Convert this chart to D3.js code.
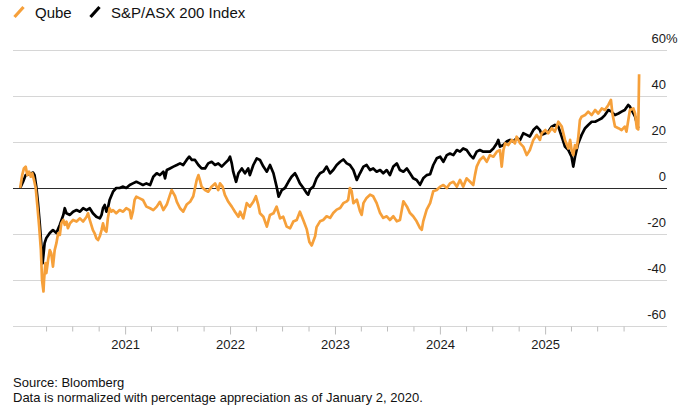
<!DOCTYPE html>
<html>
<head>
<meta charset="utf-8">
<script src="https://cdn.jsdelivr.net/npm/d3@7"></script>
<style>
  body { margin: 0; background: #fff; }
  svg { display: block; font-family: "Liberation Sans", Arial, sans-serif; }
  .grid line { stroke: #d6d6d6; stroke-width: 1; }
  .ylab { font-size: 13px; fill: #1a1a1a; }
  .x.axis text { font-size: 13px; fill: #1a1a1a; }
  .x.axis line { stroke: #bdbdbd; }
  .x.axis path { display: none; }
  .legend text { font-size: 15px; fill: #111; }
  .note { font-size: 13px; fill: #111; }
  .line { fill: none; stroke-width: 2.7; stroke-linejoin: round; }
</style>
</head>
<body>
<div id="chart"></div>
<script>
var seriesNames = ["Qube", "S&P/ASX 200 Index"];
var seriesColors = ["#f6a03a", "#000000"];
var yTicks = [-60, -40, -20, 0, 20, 40, 60];
var sourceText = "Source: Bloomberg";
var noteText = "Data is normalized with percentage appreciation as of January 2, 2020.";

// percentage change since 2 Jan 2020
var qube = [
  ["2020-01-02",0],["2020-01-09",5.6],["2020-01-15",8.5],["2020-01-21",9.3],["2020-01-27",5.6],
  ["2020-02-02",7.1],["2020-02-08",4.9],["2020-02-13",6.4],["2020-02-19",3.5],["2020-02-25",0],
  ["2020-03-02",-8.1],["2020-03-08",-16.8],["2020-03-14",-27],["2020-03-18",-40],["2020-03-23",-45],
  ["2020-03-25",-40],["2020-03-30",-32.7],["2020-04-02",-37],["2020-04-08",-31.3],["2020-04-14",-27],
  ["2020-04-19",-28.4],["2020-04-25",-34.2],["2020-05-01",-27],["2020-05-07",-24],["2020-05-13",-19.7],
  ["2020-05-19",-20.4],["2020-05-24",-15.4],["2020-05-31",-13.9],["2020-06-05",-16],["2020-06-11",-14.6],
  ["2020-06-16",-17.5],["2020-06-23",-15.4],["2020-07-04",-13.9],["2020-07-16",-14.6],["2020-07-28",-13.2],
  ["2020-08-08",-14.6],["2020-08-20",-12.5],["2020-08-25",-11],["2020-08-31",-13.9],["2020-09-11",-18.3],
  ["2020-09-17",-19.7],["2020-09-23",-21.9],["2020-09-29",-22.6],["2020-10-05",-21],["2020-10-11",-18.3],
  ["2020-10-16",-15.4],["2020-10-22",-18.3],["2020-10-28",-19],["2020-11-02",-13.2],["2020-11-08",-8.8],
  ["2020-11-14",-10.3],["2020-11-20",-9.6],["2020-12-01",-11],["2020-12-13",-9.6],["2020-12-25",-10.3],
  ["2021-01-05",-8.8],["2021-01-17",-9.6],["2021-01-22",-13.2],["2021-01-28",-10.3],["2021-02-03",-5.2],
  ["2021-02-09",-3.8],["2021-02-21",-4.5],["2021-03-04",-5.2],["2021-03-16",-8.1],["2021-03-29",-8.8],
  ["2021-04-09",-9.6],["2021-04-21",-8.1],["2021-05-02",-6],["2021-05-14",-9.6],["2021-05-26",-7.2],
  ["2021-06-06",-3],["2021-06-12",-0.9],["2021-06-24",-3.6],["2021-06-30",-6],["2021-07-11",-8.8],
  ["2021-07-22",-10.3],["2021-08-03",-7.2],["2021-08-15",-6],["2021-08-26",-3.6],["2021-09-07",3.5],
  ["2021-09-13",5.6],["2021-09-18",3.5],["2021-09-24",0.6],["2021-10-06",-0.9],["2021-10-17",-1.6],
  ["2021-10-29",0.6],["2021-11-10",2],["2021-11-21",-0.9],["2021-11-27",2],["2021-12-06",0.6],
  ["2021-12-14",-3],["2021-12-26",-6],["2022-01-07",-8.1],["2022-01-18",-10.3],["2022-01-30",-12.5],
  ["2022-02-05",-10.3],["2022-02-16",-13.2],["2022-02-28",-6.6],["2022-03-11",-8.1],["2022-03-23",-6],
  ["2022-04-01",-3.6],["2022-04-09",-7.2],["2022-04-15",-11],["2022-04-27",-12.5],["2022-05-09",-16.8],
  ["2022-05-20",-11.7],["2022-06-01",-11],["2022-06-12",-8.1],["2022-06-24",-13.2],["2022-07-05",-12.5],
  ["2022-07-17",-16.8],["2022-07-29",-17.5],["2022-08-09",-14.6],["2022-08-21",-13.9],["2022-09-01",-10.3],
  ["2022-09-13",-14],["2022-09-25",-18],["2022-10-04",-23.5],["2022-10-12",-25],["2022-10-24",-21],
  ["2022-10-29",-17],["2022-11-10",-14.5],["2022-11-21",-13.9],["2022-12-03",-12.3],["2022-12-15",-13],
  ["2022-12-26",-10.9],["2023-01-07",-9.4],["2023-01-19",-8.7],["2023-01-30",-6.6],["2023-02-11",-5.8],
  ["2023-02-16",-5.1],["2023-02-22",0],["2023-02-28",-1.4],["2023-03-06",-6.6],["2023-03-18",-5.1],
  ["2023-03-29",-10.1],["2023-04-04",-11.7],["2023-04-10",-6.6],["2023-04-21",-4.3],["2023-05-03",-2.9],
  ["2023-05-14",-3.6],["2023-05-26",-6.6],["2023-06-07",-10.9],["2023-06-18",-13],["2023-06-30",-12.3],
  ["2023-07-11",-13.9],["2023-07-23",-12.3],["2023-08-04",-14.5],["2023-08-15",-13.9],["2023-08-27",-5.8],
  ["2023-09-08",-8],["2023-09-19",-10.9],["2023-09-30",-12.3],["2023-10-12",-14.5],["2023-10-24",-17.4],
  ["2023-10-30",-18.2],["2023-11-04",-14.5],["2023-11-16",-9.4],["2023-11-28",-6.6],["2023-12-09",-1.4],
  ["2023-12-21",-0.9],["2024-01-02",0.6],["2024-01-13",1.3],["2024-01-25",0],["2024-02-05",2],
  ["2024-02-17",2.7],["2024-02-29",0.6],["2024-03-11",3.5],["2024-03-22",0.6],["2024-04-03",4.2],
  ["2024-04-15",2.7],["2024-04-26",1.3],["2024-05-02",5.6],["2024-05-08",9.3],["2024-05-19",12.2],
  ["2024-05-31",13.6],["2024-06-12",11.4],["2024-06-23",14.3],["2024-07-05",13.6],["2024-07-17",15.8],
  ["2024-07-28",16.5],["2024-08-03",9.3],["2024-08-09",16.5],["2024-08-15",19.4],["2024-08-26",18.7],
  ["2024-09-07",20.9],["2024-09-18",19.4],["2024-09-24",22.3],["2024-10-06",19.4],["2024-10-17",18],
  ["2024-10-29",14.3],["2024-11-09",16.5],["2024-11-21",20.9],["2024-12-03",23.1],["2024-12-14",20.9],
  ["2024-12-20",23.8],["2025-01-02",25.2],["2025-01-12",23.8],["2025-01-24",26],["2025-02-04",24.5],
  ["2025-02-16",28.8],["2025-02-28",26.7],["2025-03-11",20.9],["2025-03-23",17.2],["2025-03-29",20.9],
  ["2025-04-03",16.5],["2025-04-09",14.3],["2025-04-15",18.7],["2025-04-21",17.4],["2025-04-26",21.6],
  ["2025-05-02",29.5],["2025-05-08",31],["2025-05-20",31.7],["2025-05-31",33.2],["2025-06-12",31.7],
  ["2025-06-24",33.9],["2025-07-05",32.4],["2025-07-17",34.6],["2025-07-28",33.9],["2025-08-09",36.1],
  ["2025-08-18",38.3],["2025-08-23",32.4],["2025-09-01",26.7],["2025-09-13",26],["2025-09-24",25.2],
  ["2025-10-05",26.7],["2025-10-11",24.5],["2025-10-23",33.9],["2025-11-04",34.6],["2025-11-10",32.4],
  ["2025-11-16",26],["2025-11-21",25.5],["2025-11-24",49.5]
];

var asx = [
  ["2020-01-02",0],["2020-01-12",2.7],["2020-01-21",5.6],["2020-02-04",6],["2020-02-16",6.7],
  ["2020-02-21",5.6],["2020-02-27",0.6],["2020-03-04",-6.7],["2020-03-10",-15.4],["2020-03-16",-25.5],
  ["2020-03-20",-32.8],["2020-03-27",-24],["2020-04-02",-21.7],["2020-04-14",-19.6],["2020-04-25",-18.3],
  ["2020-05-07",-19.6],["2020-05-19",-16],["2020-05-31",-11.7],["2020-06-05",-8.8],["2020-06-11",-11],
  ["2020-06-23",-11.7],["2020-07-04",-10.3],["2020-07-16",-9.6],["2020-07-28",-10.3],["2020-08-08",-8.8],
  ["2020-08-20",-9.6],["2020-08-31",-8.8],["2020-09-11",-11],["2020-09-23",-12.5],["2020-10-05",-13.2],
  ["2020-10-11",-11.7],["2020-10-16",-8.8],["2020-10-22",-7.4],["2020-10-28",-10.3],["2020-11-02",-8.8],
  ["2020-11-08",-5.2],["2020-11-20",-1.6],["2020-12-01",0],["2020-12-13",0],["2020-12-25",0.6],
  ["2021-01-05",0],["2021-01-17",1.3],["2021-01-28",2],["2021-02-09",2.7],["2021-02-21",2],
  ["2021-03-04",1.3],["2021-03-16",2],["2021-03-29",1.3],["2021-04-09",4.9],["2021-04-21",6.4],
  ["2021-05-02",5.6],["2021-05-14",7.1],["2021-05-20",4.2],["2021-05-26",7.8],["2021-06-06",8.5],
  ["2021-06-18",9.3],["2021-06-30",10],["2021-07-11",10.7],["2021-07-22",10],["2021-08-03",12.2],
  ["2021-08-12",13.6],["2021-08-21",12.2],["2021-09-01",12.2],["2021-09-13",10],["2021-09-24",8.5],
  ["2021-10-06",8.5],["2021-10-17",10.7],["2021-10-29",11.4],["2021-11-10",10],["2021-11-21",10.7],
  ["2021-12-03",9.3],["2021-12-14",10.7],["2021-12-26",12.2],["2022-01-01",13.6],["2022-01-07",10.7],
  ["2022-01-12",7.1],["2022-01-22",2.7],["2022-01-30",6.4],["2022-02-11",8.5],["2022-02-22",6.4],
  ["2022-03-05",8.5],["2022-03-11",5.6],["2022-03-23",10],["2022-04-04",12.9],["2022-04-15",12.2],
  ["2022-04-27",9.3],["2022-05-09",7.1],["2022-05-20",10],["2022-06-01",6.4],["2022-06-12",0.6],
  ["2022-06-19",-3.8],["2022-06-30",-0.9],["2022-07-11",0],["2022-07-23",2.7],["2022-08-03",4.9],
  ["2022-08-15",6.4],["2022-08-21",5],["2022-09-01",2],["2022-09-13",0],["2022-09-25",-2.3],
  ["2022-09-30",-2.9],["2022-10-06",-0.7],["2022-10-18",0.7],["2022-10-29",4.2],["2022-11-10",6.4],
  ["2022-11-21",7.1],["2022-12-03",9.3],["2022-12-15",6.4],["2022-12-26",7.8],["2023-01-07",10],
  ["2023-01-19",11.4],["2023-01-30",12.4],["2023-02-11",10.7],["2023-02-22",10],["2023-03-06",7.8],
  ["2023-03-18",3.5],["2023-03-29",6.4],["2023-04-10",9.3],["2023-04-21",10],["2023-05-03",7.8],
  ["2023-05-14",8.5],["2023-05-26",7.1],["2023-06-07",7.8],["2023-06-18",6.4],["2023-06-30",7.8],
  ["2023-07-11",5.6],["2023-07-23",9.3],["2023-08-04",10.7],["2023-08-15",7.8],["2023-08-27",7.1],
  ["2023-09-08",8.5],["2023-09-19",6.4],["2023-09-30",4.2],["2023-10-12",3.5],["2023-10-24",1.4],
  ["2023-11-04",4.2],["2023-11-16",5.6],["2023-11-28",6],["2023-12-09",10],["2023-12-21",12.9],
  ["2024-01-02",13.6],["2024-01-13",11.4],["2024-01-25",14.3],["2024-02-05",15],["2024-02-17",14.3],
  ["2024-02-29",16.5],["2024-03-11",15.8],["2024-03-22",17.2],["2024-04-03",16.5],["2024-04-15",14.3],
  ["2024-04-26",12.9],["2024-05-08",15.8],["2024-05-19",16.5],["2024-05-31",15.8],["2024-06-12",15.8],
  ["2024-06-23",15.8],["2024-07-05",17.2],["2024-07-17",19.4],["2024-07-22",20.9],["2024-07-28",18],
  ["2024-08-09",18.7],["2024-08-20",20.2],["2024-09-01",20.9],["2024-09-12",20.2],["2024-09-24",21.6],
  ["2024-10-06",20.9],["2024-10-17",23.8],["2024-10-29",23.1],["2024-11-09",22.4],["2024-11-21",25.2],
  ["2024-12-03",26.7],["2024-12-14",25.2],["2024-12-20",23.1],["2025-01-02",23.8],["2025-01-12",24.5],
  ["2025-01-24",26.7],["2025-02-04",27.4],["2025-02-16",26.7],["2025-02-28",22.3],["2025-03-11",18],
  ["2025-03-23",16.5],["2025-04-03",13.6],["2025-04-09",9.3],["2025-04-15",13.6],["2025-04-26",19.4],
  ["2025-05-08",23.1],["2025-05-20",26],["2025-05-31",27.4],["2025-06-12",28.8],["2025-06-24",28.8],
  ["2025-07-05",29.5],["2025-07-17",30.3],["2025-07-28",31.7],["2025-08-09",33.9],["2025-08-20",33.2],
  ["2025-09-01",31.7],["2025-09-13",32.4],["2025-09-24",33.2],["2025-10-05",33.9],["2025-10-17",36.1],
  ["2025-10-23",35.4],["2025-10-29",33.9],["2025-11-10",31],["2025-11-16",28.2],["2025-11-21",26]
];

(function() {
  var width = 680, height = 416;
  var margin = {left: 13, right: 667, top: 50, bottom: 326};

  var parseDate = d3.timeParse("%Y-%m-%d");

  var x = d3.scaleTime()
      .domain([parseDate("2019-12-08"), parseDate("2026-03-01")])
      .range([margin.left, margin.right]);

  var y = d3.scaleLinear()
      .domain([-60, 60])
      .range([margin.bottom, margin.top]);

  var svg = d3.select("#chart").append("svg")
      .attr("width", width)
      .attr("height", height);

  // legend
  var legend = svg.append("g").attr("class", "legend");
  var legendX = [13, 89];
  seriesNames.forEach(function(name, i) {
    legend.append("line")
        .attr("x1", legendX[i] + 1.5).attr("y1", 17)
        .attr("x2", legendX[i] + 10.5).attr("y2", 7)
        .style("stroke", seriesColors[i])
        .style("stroke-width", 3.2);
    legend.append("text")
        .attr("x", legendX[i] + 22)
        .attr("y", 17.5)
        .text(name);
  });

  // gridlines
  svg.append("g")
      .attr("class", "grid")
      .selectAll("line")
      .data(yTicks.filter(function(d) { return d !== 0; }))
      .enter().append("line")
      .attr("x1", margin.left).attr("x2", margin.right)
      .attr("y1", function(d) { return y(d) + 0.5; })
      .attr("y2", function(d) { return y(d) + 0.5; });

  // y labels on the right
  svg.append("g")
      .selectAll("text")
      .data(yTicks)
      .enter().append("text")
      .attr("class", "ylab")
      .attr("x", margin.right - 1)
      .attr("y", function(d) { return y(d) - 7; })
      .attr("text-anchor", "end")
      .text(function(d) { return d; });

  svg.append("text")
      .attr("class", "ylab")
      .attr("x", margin.right - 1)
      .attr("y", y(60) - 7)
      .text("%");

  // x axis: quarterly ticks, years labelled
  var quarters = d3.timeMonth.every(3).range(parseDate("2020-04-01"), parseDate("2025-11-01"));

  var xAxis = d3.axisBottom(x)
      .tickValues(quarters)
      .tickSize(5)
      .tickPadding(8)
      .tickFormat(function(d) { return d.getMonth() === 0 ? d3.timeFormat("%Y")(d) : ""; });

  var gx = svg.append("g")
      .attr("class", "x axis")
      .attr("transform", "translate(0," + (margin.bottom + 0.5) + ")")
      .call(xAxis);

  gx.selectAll(".tick line")
      .attr("y2", function(d) { return d.getMonth() === 0 ? 8 : 5; });

  var line = d3.line()
      .x(function(d) { return x(parseDate(d[0])); })
      .y(function(d) { return y(d[1]); });

  // zero line
  svg.append("line")
      .attr("x1", margin.left).attr("x2", margin.right)
      .attr("y1", y(0) + 0.5).attr("y2", y(0) + 0.5)
      .style("stroke", "#2b2b2b");

  svg.append("path")
      .datum(asx)
      .attr("class", "line")
      .style("stroke", seriesColors[1])
      .attr("d", line);

  svg.append("path")
      .datum(qube)
      .attr("class", "line")
      .style("stroke", seriesColors[0])
      .attr("d", line);

  // footer
  svg.append("text")
      .attr("class", "note")
      .attr("x", 13).attr("y", 386.5)
      .text(sourceText);

  svg.append("text")
      .attr("class", "note")
      .attr("x", 13).attr("y", 401.5)
      .text(noteText);
})();
</script>
</body>
</html>
